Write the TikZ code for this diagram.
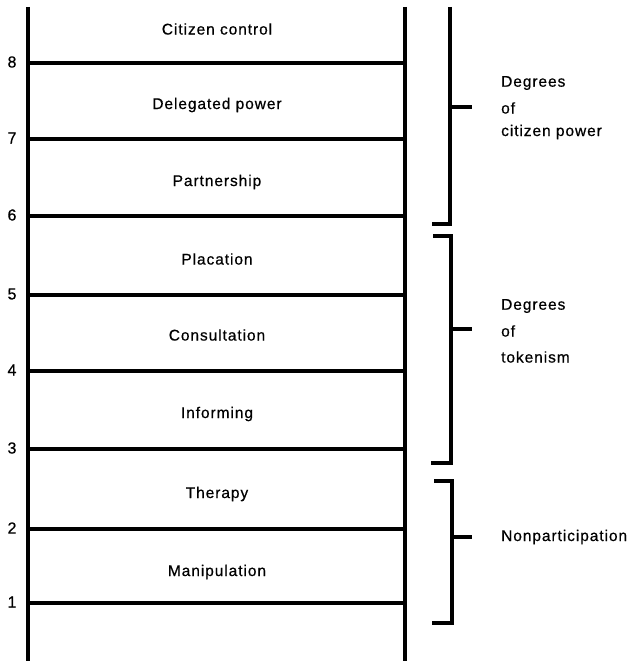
\documentclass[tikz,border=0pt]{standalone}
\usepackage{fontspec}
\setmainfont[LetterSpace=6,FakeBold=0.6]{Liberation Sans}
\begin{document}
\begin{tikzpicture}[x=1pt,y=-1pt,
  rail/.style={line width=3.8pt},
  rung/.style={line width=3.2pt},
  brk/.style={line width=3.2pt},
  lbl/.style={font=\fontsize{15.5}{18}\selectfont, inner sep=0pt},
  num/.style={font=\fontsize{16}{18}\selectfont, inner sep=0pt},
  side/.style={font=\fontsize{15.5}{18}\selectfont, inner sep=0pt, anchor=west, align=left}]
\useasboundingbox (0,0) rectangle (630,661);
% rails
\coordinate (LT) at (28,7); \coordinate (LB) at (28,661);
\coordinate (RT) at (405,7); \coordinate (RB) at (405,661);
\draw[rail] (LT) -- (LB);
\draw[rail] (RT) -- (RB);
% rungs and numbers
\foreach \n/\y in {8/63,7/139,6/216,5/295,4/371,3/449,2/529,1/603}{
  \coordinate (l\n) at (28,\y);
  \coordinate (r\n) at (405,\y);
  \draw[rung] (l\n) -- (r\n);
  \node[num] (n\n) at (12,\y-1) {\n};
}
% labels
\node[lbl] (t8) at (217,29) {Citizen control};
\node[lbl] (t7) at (217,105) {Delegated power};
\node[lbl] (t6) at (217,182) {Partnership};
\node[lbl] (t5) at (217,259) {Placation};
\node[lbl] (t4) at (217,335) {Consultation};
\node[lbl] (t3) at (217,414) {Informing};
\node[lbl] (t2) at (217,494) {Therapy};
\node[lbl] (t1) at (217,572) {Manipulation};
% brackets
\coordinate (a1) at (450,7); \coordinate (a2) at (450,224); \coordinate (a3) at (432,224);
\coordinate (at1) at (450,107); \coordinate (at2) at (472,107);
\draw[brk] (a1) -- (a2) -- (a3);
\draw[brk] (at1) -- (at2);
\coordinate (b0) at (433,236); \coordinate (b1) at (451,236); \coordinate (b2) at (451,463); \coordinate (b3) at (431,463);
\coordinate (bt1) at (451,329); \coordinate (bt2) at (472,329);
\draw[brk] (b0) -- (b1) -- (b2) -- (b3);
\draw[brk] (bt1) -- (bt2);
\coordinate (c0) at (434,481); \coordinate (c1) at (452,481); \coordinate (c2) at (452,623); \coordinate (c3) at (432,623);
\coordinate (ct1) at (452,537); \coordinate (ct2) at (472,537);
\draw[brk] (c0) -- (c1) -- (c2) -- (c3);
\draw[brk] (ct1) -- (ct2);
% side labels
\node[side] (sa1) at (501,83) {Degrees};
\node[side] (sa2) at (501,108) {of};
\node[side] (sa3) at (501,132) {citizen power};
\node[side] (sb1) at (501,306) {Degrees};
\node[side] (sb2) at (501,331) {of};
\node[side] (sb3) at (501,357) {tokenism};
\node[side] (sc1) at (501,537) {Nonparticipation};
\end{tikzpicture}
\end{document}
